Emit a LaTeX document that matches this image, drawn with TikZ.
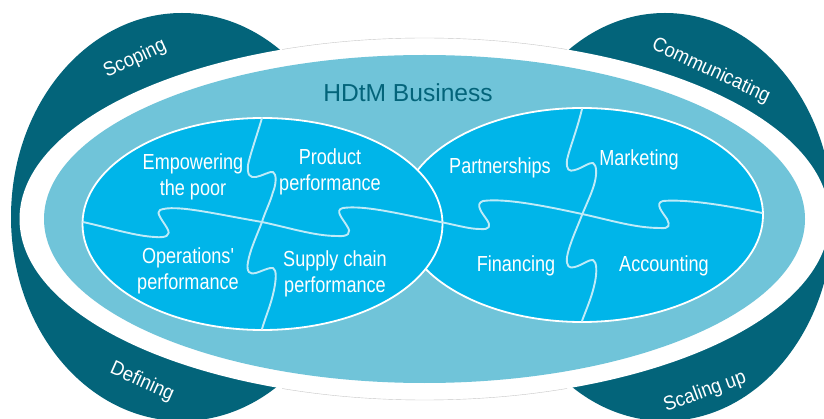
\documentclass[tikz,border=0pt]{standalone}
\usepackage{fontspec}
\setmainfont{Liberation Sans}
\newfontfamily\narrowfont[FakeStretch=0.83]{Liberation Sans}
\newfontfamily\lobeface[FakeStretch=0.92]{Liberation Sans}
\definecolor{hdark}{HTML}{03647A}
\definecolor{hlight}{HTML}{70C4D9}
\definecolor{hblue}{HTML}{00B5E9}
\definecolor{hseam}{HTML}{BFEBF8}
\tikzset{
  x=1pt,y=-1pt,
  lobe/.style={fill=hdark,draw=none},
  bigoval/.style={fill=white,draw=none},
  innerring/.style={fill=hlight,draw=none},
  piece/.style={fill=hblue,draw=white,line width=1.8pt},
  seam/.style={draw=hseam,line width=1.9pt,line cap=round,line join=round},
  label/.style={text=white,font=\narrowfont\fontsize{21.8}{25}\selectfont,align=center,inner sep=0pt},
  lobelabel/.style={text=white,font=\lobeface\fontsize{20}{24}\selectfont,inner sep=0pt}
}
\begin{document}
\begin{tikzpicture}
\useasboundingbox (0,0) rectangle (824,419);
\clip (0,0) rectangle (824,419);
\fill[white] (0,0) rectangle (824,419);
% dark lobes
\path[lobe] (182,217) ellipse [x radius=171,y radius=204];
\path[lobe] (665,217) ellipse [x radius=168,y radius=204];
% white and light ovals
\path[bigoval] (424.5,219) ellipse [x radius=405,y radius=181];
\begin{scope}
\clip (282,0) rectangle (567,419);
\draw[black!22,line width=.4pt] (424.5,219) ellipse [x radius=405,y radius=181];
\end{scope}
\path[innerring] (424.5,219) ellipse [x radius=380.5,y radius=164];
% puzzle ovals
\path[piece] (582,215) ellipse [x radius=181,y radius=107];
\path[piece] (262.5,224) ellipse [x radius=180,y radius=106];
% seams
\draw[seam] (83,222) .. controls (110,228) and (135,236) .. (155,237)
  .. controls (165,238) and (172,236) .. (167,228)
  .. controls (163,221) and (155,212) .. (160,210)
  .. controls (175,204) and (215,214) .. (262,222)
  .. controls (290,228) and (315,236) .. (337,236)
  .. controls (348,237) and (352,233) .. (347,226)
  .. controls (343,219) and (334,210) .. (343,208)
  .. controls (365,205) and (400,214) .. (443,222.5)
  .. controls (460,226) and (470,229) .. (480,229)
  .. controls (490,230) and (491,226) .. (487,220)
  .. controls (483,214) and (474,204) .. (483,201)
  .. controls (505,198) and (545,206) .. (582,214)
  .. controls (610,220) and (635,228) .. (660,228)
  .. controls (670,229) and (670,225) .. (667,219)
  .. controls (663,213) and (654,203) .. (663,201)
  .. controls (685,199) and (725,205) .. (762,213);
\draw[seam] (262,118) .. controls (257,135) and (250,155) .. (248,165)
  .. controls (247,175) and (250,178) .. (256,177)
  .. controls (262,176) and (270,171) .. (273,172)
  .. controls (277,174) and (276,185) .. (273,192)
  .. controls (270,203) and (265,212) .. (262,222)
  .. controls (257,235) and (250,250) .. (248,262)
  .. controls (246,272) and (250,275) .. (256,273)
  .. controls (262,271) and (270,267) .. (273,268)
  .. controls (277,270) and (276,280) .. (274,290)
  .. controls (271,305) and (265,318) .. (262,329);
\draw[seam] (582,109) .. controls (577,130) and (569,150) .. (567,160)
  .. controls (566,170) and (569,172) .. (575,170)
  .. controls (582,168) and (590,162) .. (593,163)
  .. controls (597,165) and (597,175) .. (594,185)
  .. controls (591,195) and (586,205) .. (582,215)
  .. controls (577,228) and (569,245) .. (567,257)
  .. controls (566,266) and (569,269) .. (575,267)
  .. controls (582,265) and (590,259) .. (593,260)
  .. controls (597,262) and (597,272) .. (595,282)
  .. controls (592,297) and (586,310) .. (582,321);
% labels
\node[inner sep=0pt,text=hdark,font=\fontsize{24.6}{28}\selectfont] (title) at (408,92.5) {HDtM Business};
\node[label] (emp) at (193,177) {Empowering\\[1pt]the poor};
\node[label] (prod) at (330,172) {Product\\[1pt]performance};
\node[label] (oper) at (188,271) {Operations'\\[1pt]performance};
\node[label] (supp) at (335,274) {Supply chain\\[1pt]performance};
\node[label] (part) at (500,168) {Partnerships};
\node[label] (mark) at (639,160) {Marketing};
\node[label] (fina) at (516,266) {Financing};
\node[label] (acco) at (664,266) {Accounting};
% lobe labels
\node[lobelabel,rotate=25] (scop) at (135,59) {Scoping};
\node[lobelabel,rotate=-25] (comm) at (711,71) {Communicating};
\node[lobelabel,rotate=-24] (defi) at (142,382) {Defining};
\node[lobelabel,rotate=20] (scal) at (705,392) {Scaling up};
\end{tikzpicture}
\end{document}
